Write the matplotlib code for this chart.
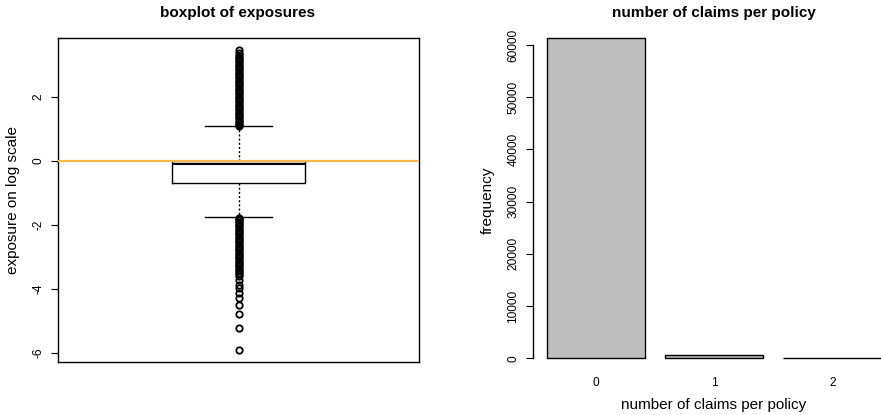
import numpy as np
import matplotlib
matplotlib.use('Agg')
from matplotlib import pyplot as plt

plt.rcParams['font.family'] = ['Liberation Sans', 'DejaVu Sans']

# boxplot summary of log(exposure)
box_med = -0.10
box_q1 = -0.71
box_q3 = 0.0
whisk_lo = -1.77
whisk_hi = 1.07
fliers_hi = [1.08, 1.12, 1.16, 1.2, 1.25, 1.3, 1.35, 1.4, 1.45, 1.5, 1.55, 1.6,
             1.65, 1.7, 1.75, 1.8, 1.85, 1.9, 1.95, 2.0, 2.05, 2.1, 2.15, 2.2,
             2.25, 2.3, 2.35, 2.4, 2.45, 2.5, 2.55, 2.6, 2.65, 2.7, 2.75, 2.8,
             2.85, 2.9, 2.95, 3.0, 3.05, 3.1, 3.15, 3.2, 3.25, 3.3, 3.38, 3.45]
fliers_lo = [-1.78, -1.82, -1.86, -1.9, -1.95, -2.0, -2.05, -2.1, -2.15, -2.2,
             -2.25, -2.3, -2.35, -2.4, -2.45, -2.5, -2.55, -2.6, -2.65, -2.7,
             -2.75, -2.8, -2.85, -2.9, -2.95, -3.0, -3.05, -3.1, -3.15, -3.2,
             -3.25, -3.3, -3.35, -3.4, -3.45, -3.5, -3.55, -3.6, -3.73, -3.88,
             -3.99, -4.14, -4.30, -4.51, -4.80, -5.22, -5.92]
y_ticks_left = [-6, -4, -2, 0, 2]

# claim counts
claims = ['0', '1', '2']
freq = [61300, 700, 25]
y_ticks_right = [0, 10000, 20000, 30000, 40000, 50000, 60000]

W, H = 881, 415
fig = plt.figure(figsize=(W/100, H/100), dpi=100)

''' Left panel: boxplot '''
ax1 = fig.add_axes([58/W, 1 - 362/H, 361/W, 324/H])
stats = [{'med': box_med, 'q1': box_q1, 'q3': box_q3,
          'whislo': whisk_lo, 'whishi': whisk_hi,
          'fliers': np.array(fliers_hi + fliers_lo)}]
ax1.bxp(stats, positions=[1], widths=0.4, capwidths=0.2,
        boxprops=dict(color='black', lw=1),
        medianprops=dict(color='black', lw=1.5),
        whiskerprops=dict(color='black', lw=1, ls=(0, (1.5, 1.5))),
        capprops=dict(color='black', lw=1),
        flierprops=dict(marker='o', markerfacecolor='none', markeredgecolor='black',
                        markersize=4.6, markeredgewidth=1.3))
ax1.axhline(0, color='#FFB84D', lw=1.6, zorder=5)
ax1.set_xlim(0.46, 1.54)
ax1.set_ylim(-6.29, 3.834)
ax1.set_xticks([])
ax1.set_yticks(y_ticks_left)
ax1.set_yticklabels([str(v) for v in y_ticks_left], rotation=90, va='center', fontsize=8.6)
ax1.tick_params(axis='y', length=5, width=0.8, pad=5)
for s in ax1.spines.values():
    s.set_linewidth(1)
fig.text(238/W, 1 - 13/H, 'boxplot of exposures', ha='center', va='center',
         fontsize=11, fontweight='bold')
fig.text(13/W, 1 - 200/H, 'exposure on log scale', rotation=90, ha='center',
         va='center', fontsize=11)

''' Right panel: barplot '''
ax2 = fig.add_axes([533.3/W, 1 - 371.1/H, 361.7/W, 345.7/H])
xpos = [0.7, 1.9, 3.1]
ax2.bar(xpos, freq, width=1.0, color='#BEBEBE', edgecolor='black', lw=1)
ax2.set_xlim(0.064, 3.736)
ax2.set_ylim(-2452, 63752)
for k in ['top', 'right', 'bottom']:
    ax2.spines[k].set_visible(False)
ax2.spines['left'].set_bounds(0, 60000)
ax2.spines['left'].set_linewidth(1)
ax2.set_yticks(y_ticks_right)
ax2.set_yticklabels([str(v) for v in y_ticks_right], rotation=90, va='center', fontsize=8.6)
ax2.tick_params(axis='y', length=5, width=0.8, pad=5)
ax2.set_xticks(xpos)
ax2.set_xticklabels(claims, fontsize=8.6)
ax2.tick_params(axis='x', length=0, pad=4)
fig.text(714/W, 1 - 13/H, 'number of claims per policy', ha='center', va='center',
         fontsize=11, fontweight='bold')
fig.text(714/W, 1 - 405/H, 'number of claims per policy', ha='center', va='center',
         fontsize=11)
fig.text(488/W, 1 - 200/H, 'frequency', rotation=90, ha='center', va='center',
         fontsize=11)

fig.savefig('out.png', dpi=100)
